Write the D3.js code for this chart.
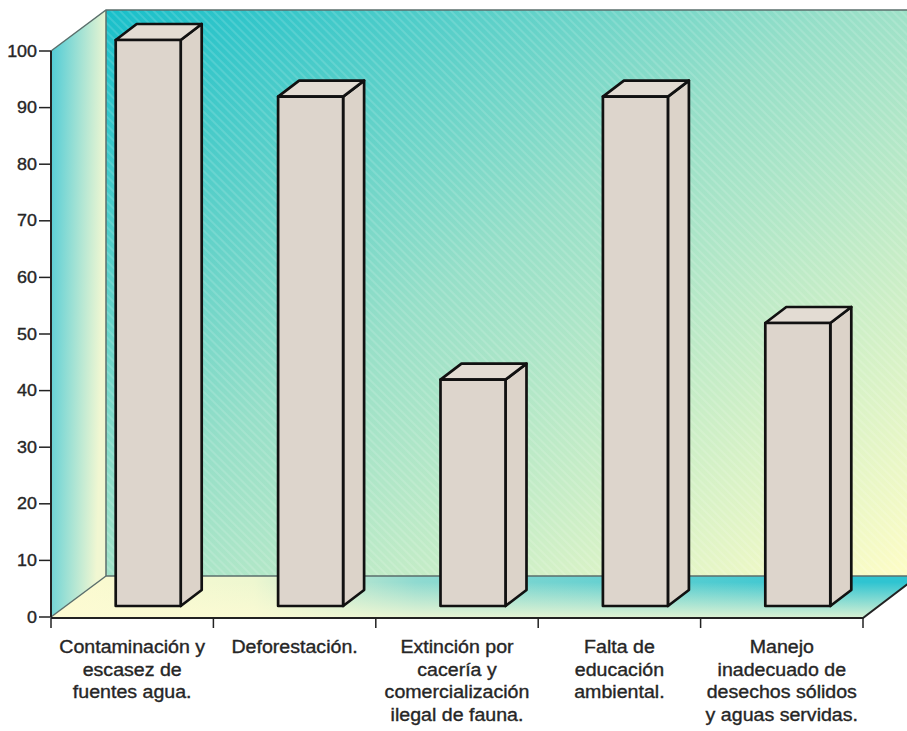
<!DOCTYPE html>
<html>
<head>
  <meta charset="utf-8">
  <title>Problemas ambientales</title>
  <style>
    body { margin: 0; background: #fff; }
    text { font-family: "Liberation Sans", Arial, sans-serif; fill: #262626; stroke: #262626; stroke-width: 0.35; }
  </style>
</head>
<body>
  <svg width="907" height="731"></svg>
  <script src="https://cdnjs.cloudflare.com/ajax/libs/d3/7.8.5/d3.min.js"></script>
  <script>
    // datos
    const categorias = [
      ["Contaminación y", "escasez de", "fuentes agua."],
      ["Deforestación."],
      ["Extinción por", "cacería y", "comercialización", "ilegal de fauna."],
      ["Falta de", "educación", "ambiental."],
      ["Manejo", "inadecuado de", "desechos sólidos", "y aguas servidas."]
    ];
    const valores = [100, 90, 40, 90, 50];
    const ticksY = [0, 10, 20, 30, 40, 50, 60, 70, 80, 90, 100];

    const svg = d3.select("svg");
    const m = {left: 51, right: 863, bottom: 617, top: 51};
    const depth = {x: 55, y: -41};     // profundidad del "cuarto"
    const barDepth = {x: 21, y: -16};  // profundidad de cada barra
    const barShift = {x: 16, y: -11};  // barra metida un poco hacia el fondo

    const y = d3.scaleLinear().domain([0, 100]).range([m.bottom, m.top]);
    const x = d3.scaleBand().domain(d3.range(categorias.length)).range([m.left, m.right]);

    const bx = m.left + depth.x, by = m.bottom + depth.y, ty = m.top + depth.y;

    const defs = svg.append("defs");
    let g1 = defs.append("linearGradient").attr("id", "fondo")
      .attr("x1", 0).attr("y1", 0).attr("x2", 1).attr("y2", 1);
    g1.append("stop").attr("offset", 0).attr("stop-color", "#18bfca");
    g1.append("stop").attr("offset", 0.45).attr("stop-color", "#96dfc8");
    g1.append("stop").attr("offset", 1).attr("stop-color", "#fffdc6");

    let g2 = defs.append("linearGradient").attr("id", "lado")
      .attr("x1", 0).attr("y1", 0).attr("x2", 1).attr("y2", 0.25);
    g2.append("stop").attr("offset", 0).attr("stop-color", "#4ecbd6");
    g2.append("stop").attr("offset", 1).attr("stop-color", "#f1f7d2");

    // piso: de crema (izquierda) a turquesa (derecha)
    let g3 = defs.append("linearGradient").attr("id", "piso")
      .attr("gradientUnits", "userSpaceOnUse")
      .attr("x1", m.left).attr("y1", 0).attr("x2", m.right).attr("y2", 0);
    g3.append("stop").attr("offset", 0).attr("stop-color", "#fdfbd0");
    g3.append("stop").attr("offset", 0.25).attr("stop-color", "#eef7d0");
    g3.append("stop").attr("offset", 0.45).attr("stop-color", "#8fdad0");
    g3.append("stop").attr("offset", 1).attr("stop-color", "#2fc4d1");
    // y se aclara hacia el frente
    let g4 = defs.append("linearGradient").attr("id", "pisoLuz")
      .attr("gradientUnits", "userSpaceOnUse")
      .attr("x1", 0).attr("y1", by).attr("x2", 0).attr("y2", m.bottom);
    g4.append("stop").attr("offset", 0.15).attr("stop-color", "#fdfbd4").attr("stop-opacity", 0);
    g4.append("stop").attr("offset", 1).attr("stop-color", "#fdfbd4").attr("stop-opacity", 0.8);

    let rayas = defs.append("pattern").attr("id", "rayas")
      .attr("patternUnits", "userSpaceOnUse").attr("width", 6).attr("height", 6)
      .attr("patternTransform", "rotate(45)");
    rayas.append("line").attr("x1", 0).attr("y1", 1).attr("x2", 6).attr("y2", 1)
      .attr("stroke", "#fff").attr("stroke-opacity", 0.22).attr("stroke-width", 1.2);

    // pared del fondo
    svg.append("rect").attr("x", bx).attr("y", ty).attr("width", m.right + depth.x - bx)
      .attr("height", by - ty).attr("fill", "url(#fondo)");
    svg.append("rect").attr("x", bx).attr("y", ty).attr("width", m.right + depth.x - bx)
      .attr("height", by - ty).attr("fill", "url(#rayas)");

    // pared lateral
    svg.append("path")
      .attr("d", `M${m.left},${m.top}L${bx},${ty}L${bx},${by}L${m.left},${m.bottom}Z`)
      .attr("fill", "url(#lado)");

    // piso
    const pisoD = `M${m.left},${m.bottom}L${bx},${by}L${m.right + depth.x},${by}L${m.right},${m.bottom}Z`;
    svg.append("path").attr("d", pisoD).attr("fill", "url(#piso)");
    svg.append("path").attr("d", pisoD).attr("fill", "url(#pisoLuz)");

    // bordes del cuarto
    const borde = svg.append("g").attr("fill", "none").attr("stroke", "#5b6f6c").attr("stroke-width", 1.5);
    borde.append("path").attr("d", `M${m.left},${m.top}L${bx},${ty}L907,${ty}`);
    borde.append("path").attr("d", `M${bx},${ty}L${bx},${by}L${m.right + depth.x},${by}`);
    borde.append("path").attr("d", `M${m.left},${m.bottom}L${bx},${by}`);

    // barras
    const bw = 65;
    const barras = svg.append("g").selectAll("g").data(valores).enter().append("g")
      .attr("stroke", "#111").attr("stroke-width", 2.7).attr("stroke-linejoin", "round");
    barras.each(function (v, i) {
      const g = d3.select(this);
      const x0 = x(i) + x.bandwidth() / 2 - bw / 2 + barShift.x;
      const yb = y(0) + barShift.y, yt = y(v) + barShift.y;
      g.append("path")
        .attr("d", `M${x0 + bw},${yt}L${x0 + bw + barDepth.x},${yt + barDepth.y}L${x0 + bw + barDepth.x},${yb + barDepth.y}L${x0 + bw},${yb}Z`)
        .attr("fill", "#dcd3c9");
      g.append("path")
        .attr("d", `M${x0},${yt}L${x0 + barDepth.x},${yt + barDepth.y}L${x0 + bw + barDepth.x},${yt + barDepth.y}L${x0 + bw},${yt}Z`)
        .attr("fill", "#e3dcd3");
      g.append("rect").attr("x", x0).attr("y", yt).attr("width", bw).attr("height", yb - yt)
        .attr("fill", "#ddd5cc");
    });

    // eje Y
    const ejeY = svg.append("g");
    ejeY.append("line").attr("x1", m.left).attr("x2", m.left).attr("y1", y(100)).attr("y2", y(0))
      .attr("stroke", "#222").attr("stroke-width", 2);
    ejeY.selectAll("line.t").data(ticksY).enter().append("line").attr("class", "t")
      .attr("x1", m.left - 12).attr("x2", m.left).attr("y1", d => y(d)).attr("y2", d => y(d))
      .attr("stroke", "#222").attr("stroke-width", 1.5);
    ejeY.selectAll("text").data(ticksY).enter().append("text")
      .attr("transform", d => `translate(${m.left - 14},${y(d) + 5.5}) scale(1.12,1)`)
      .attr("text-anchor", "end").attr("font-size", 16).text(d => d);

    // eje X
    const ejeX = svg.append("g");
    ejeX.append("path").attr("d", `M${m.left},${m.bottom + 1}L${m.right},${m.bottom + 1}L${m.right + depth.x},${by}`)
      .attr("fill", "none").attr("stroke", "#222").attr("stroke-width", 2);
    const bordesX = d3.range(categorias.length + 1).map(i => m.left + i * x.bandwidth());
    ejeX.selectAll("line").data(bordesX).enter().append("line")
      .attr("x1", d => d).attr("x2", d => d).attr("y1", m.bottom + 1).attr("y2", m.bottom + 11)
      .attr("stroke", "#222").attr("stroke-width", 1.5);

    const etiquetas = svg.append("g").selectAll("g").data(categorias).enter().append("g")
      .attr("transform", (d, i) => `translate(${x(i) + x.bandwidth() / 2},0)`);
    etiquetas.selectAll("text").data(d => d).enter().append("text")
      .attr("transform", (d, j) => `translate(0,${653 + j * 22.5}) scale(1.12,1)`)
      .attr("text-anchor", "middle").attr("font-size", 17.5).text(d => d);
  </script>
</body>
</html>
